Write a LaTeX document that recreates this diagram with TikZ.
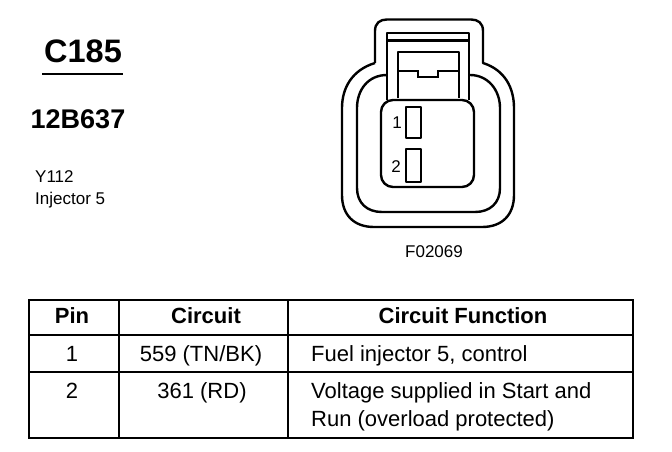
\documentclass[tikz,border=0pt]{standalone}
\usepackage{fontspec}
\setmainfont{Liberation Sans}
\newcommand{\fs}[1]{\fontsize{#1}{#1}\selectfont}
\tikzset{
  thick line/.style={line width=2.4pt,line join=round},
  tline/.style={line width=2.8pt},
  lbl/.style={inner sep=0pt,anchor=base},
  lbll/.style={inner sep=0pt,anchor=base west},
  cell/.style={font=\fs{22}},
  head/.style={font=\fs{22}\bfseries},
}
\begin{document}
\begin{tikzpicture}[x=1pt,y=-1pt]
\useasboundingbox (0,0) rectangle (672,452);
% titles
\node[lbl,font=\fs{32.5}\bfseries] (title) at (83,63) {C185};
\coordinate (ulA) at (42,74); \coordinate (ulB) at (123,74);
\draw[line width=1.3pt] (ulA) -- (ulB);
\node[lbl,font=\fs{27}\bfseries] (code) at (78,128) {12B637};
\node[lbll,font=\fs{17}] (y112) at (35,182) {Y112};
\node[lbll,font=\fs{17}] (inj) at (35,204) {Injector 5};
% connector outer
\draw[thick line] (375,63) -- (375,31) .. controls (375,23) and (380,19.5) .. (387,19.5) -- (471,19.5) .. controls (478,19.5) and (483,23) .. (483,31) -- (483,63)
  .. controls (505,70) and (514,88) .. (514,108) -- (514,195)
  .. controls (514,215) and (502,227) .. (482,227) -- (374,227)
  .. controls (354,227) and (342,215) .. (342,195) -- (342,108)
  .. controls (342,88) and (352,70) .. (375,63);
% connector inner
\draw[thick line] (387,75) .. controls (368,75) and (357,90) .. (357,108) -- (357,188)
  .. controls (357,203) and (367,212) .. (382,212) -- (475,212)
  .. controls (490,212) and (500,203) .. (500,188) -- (500,108)
  .. controls (500,90) and (488,75) .. (470,75);
% neck
\draw[thick line] (387,100) -- (387,33) -- (469,33) -- (469,100);
\draw[line width=3pt] (387,41) -- (469,41);
% latch
\draw[thick line] (398,98) -- (398,52) -- (459,52) -- (459,98);
\draw[line width=1.8pt] (398,71) -- (418,71) -- (418,77) -- (438,77) -- (438,71) -- (459,71);
% pin box
\draw[thick line,fill=white,rounded corners=12pt] (381,100) rectangle (474,187);
\draw[thick line] (406,107) rectangle (421,138);
\draw[thick line] (406,149) rectangle (421,182);
\node[lbl,font=\fs{17}] (p1) at (397,128) {1};
\node[lbl,font=\fs{17}] (p2) at (396,172) {2};
\node[lbl,font=\fs{17}] (fig) at (434,257) {F02069};
% table
\draw[tline] (29,300) rectangle (633,438);
\draw[tline] (29,335) -- (633,335);
\draw[tline] (29,372) -- (633,372);
\draw[tline] (119,300) -- (119,438);
\draw[tline] (288,300) -- (288,438);
\node[lbl,head] (h1) at (72,323) {Pin};
\node[lbl,head] (h2) at (206,323) {Circuit};
\node[lbl,head] (h3) at (463,323) {Circuit Function};
\node[lbl,cell] (a1) at (72,361) {1};
\node[lbl,cell] (b1) at (201,361) {559 (TN/BK)};
\node[lbll,cell] (c1) at (311,361) {Fuel injector 5, control};
\node[lbl,cell] (a2) at (72,398) {2};
\node[lbl,cell] (b2) at (202,398) {361 (RD)};
\node[lbll,cell] (c2) at (311,398) {Voltage supplied in Start and};
\node[lbll,cell] (c3) at (311,426) {Run (overload protected)};
\end{tikzpicture}
\end{document}
